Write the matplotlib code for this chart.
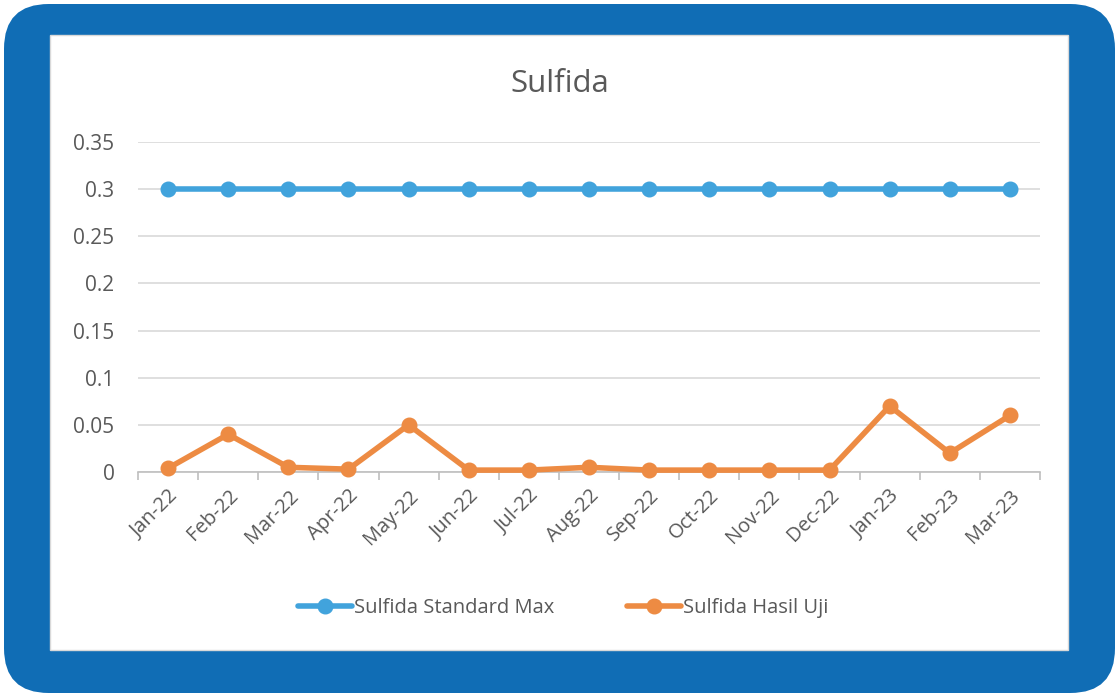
import matplotlib
matplotlib.use('Agg')
from matplotlib import pyplot as plt
from matplotlib.patches import FancyBboxPatch, Rectangle

months = ['Jan-22', 'Feb-22', 'Mar-22', 'Apr-22', 'May-22', 'Jun-22', 'Jul-22', 'Aug-22',
          'Sep-22', 'Oct-22', 'Nov-22', 'Dec-22', 'Jan-23', 'Feb-23', 'Mar-23']
standard_max = [0.3] * 15
hasil_uji = [0.004, 0.04, 0.005, 0.003, 0.05, 0.002, 0.002, 0.005,
             0.002, 0.002, 0.002, 0.002, 0.07, 0.02, 0.06]
y_ticks = [0, 0.05, 0.1, 0.15, 0.2, 0.25, 0.3, 0.35]
y_labels = ['0', '0.05', '0.1', '0.15', '0.2', '0.25', '0.3', '0.35']

plt.rcParams['font.family'] = ['Open Sans', 'DejaVu Sans']
W, H = 1119, 697
fig = plt.figure(figsize=(W / 100, H / 100), dpi=100)
fig.patch.set_facecolor('white')

# blue rounded frame and white chart area, kept behind the axes
frame = FancyBboxPatch((4 / W, 4 / H), (W - 8) / W, (H - 8) / H,
                       boxstyle='round,pad=0,rounding_size=0.04',
                       transform=fig.transFigure, facecolor='#106db5',
                       edgecolor='none', mutation_aspect=W / H, zorder=-2)
fig.patches.append(frame)
fig.patches.append(Rectangle((50 / W, 1 - 650 / H), (1068 - 50) / W, (650 - 35) / H,
                             transform=fig.transFigure, facecolor='white',
                             edgecolor='#d9d9d9', linewidth=1, zorder=-1))

ax = fig.add_axes([138 / W, 1 - 472 / H, (1040 - 138) / W, (472 - 142) / H])
ax.set_facecolor('none')
x = list(range(len(months)))
blue = '#41a3dc'
orange = '#ed8b43'
ax.plot(x, standard_max, color=blue, lw=4, marker='o', ms=10.5,
        label='Sulfida Standard Max', solid_capstyle='round', zorder=3, clip_on=False)
ax.plot(x, hasil_uji, color=orange, lw=4, marker='o', ms=10.5,
        label='Sulfida Hasil Uji', solid_capstyle='round', zorder=3, clip_on=False)

ax.set_xlim(-0.5, len(months) - 0.5)
ax.set_ylim(0, 0.35)
ax.set_yticks(y_ticks)
ax.set_yticklabels(y_labels)
ax.grid(axis='y', color='#d9d9d9', lw=1.2)
ax.set_axisbelow(True)
for s in ['top', 'right', 'left']:
    ax.spines[s].set_visible(False)
ax.spines['bottom'].set_color('#bfbfbf')
ax.spines['bottom'].set_linewidth(1.2)

ax.set_xticks(x)
ax.set_xticklabels(months, rotation=45, ha='right', rotation_mode='anchor')
ax.set_xticks([i - 0.5 for i in range(len(months) + 1)], minor=True)
ax.tick_params(axis='x', which='major', length=0, pad=10, labelsize=14.5, labelcolor='#595959')
ax.tick_params(axis='x', which='minor', length=6, color='#bfbfbf', width=1.2)
ax.tick_params(axis='y', length=0, pad=17, labelsize=15, labelcolor='#595959')

fig.text(560 / W, 1 - 92 / H, 'Sulfida', ha='center', va='baseline',
         fontsize=22.5, color='#595959')
fig.legend(loc='center', bbox_to_anchor=(563 / W, 1 - 608 / H), ncol=2, frameon=False,
           fontsize=14.5, labelcolor='#595959', handlelength=2.7, handletextpad=0.1,
           columnspacing=3.6)

fig.savefig('out.png', dpi=100)
